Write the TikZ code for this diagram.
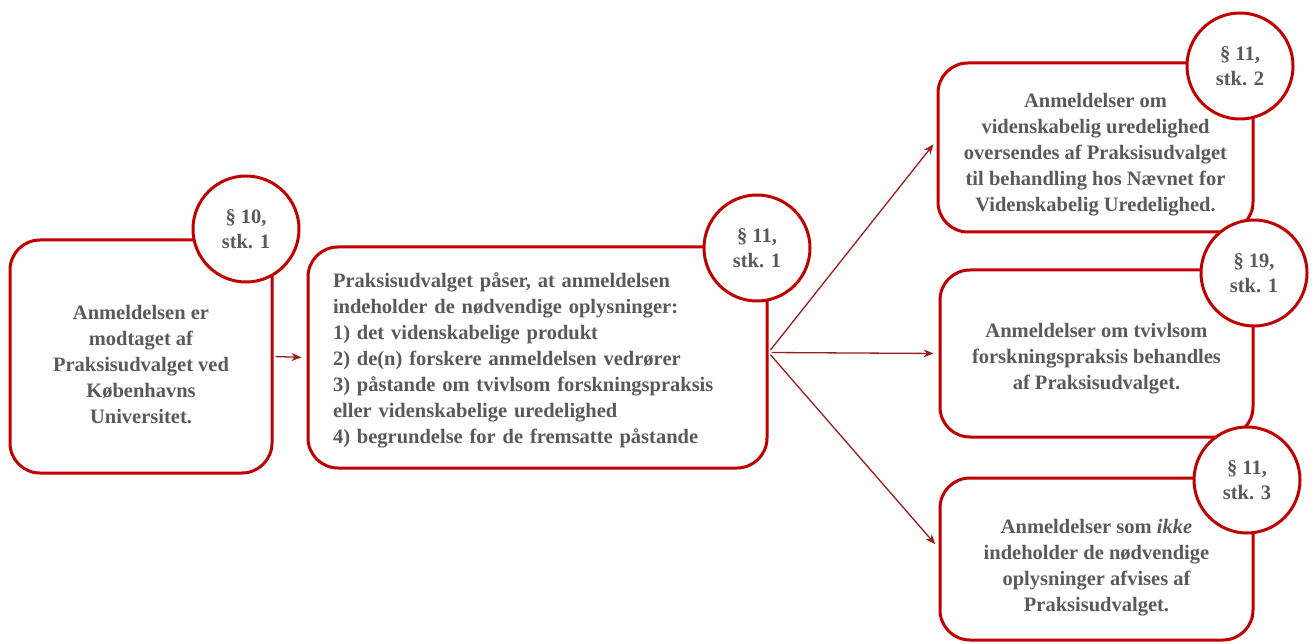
\documentclass[tikz,border=0pt]{standalone}
\usepackage{fontspec}
\setmainfont{Liberation Serif}
\usetikzlibrary{arrows.meta}
\definecolor{boxred}{HTML}{C00000}
\definecolor{arrred}{HTML}{9B1C1C}
\definecolor{txtgray}{HTML}{5A5A5A}
\tikzset{
  box/.style={draw=boxred, line width=3pt, rounded corners=30pt, fill=white, inner sep=0pt},
  boxtext/.style={font=\fontsize{20.5}{26}\selectfont\bfseries, text=txtgray, align=center, inner sep=0pt},
  para/.style={draw=boxred, line width=3pt, fill=white, circle, inner sep=0pt, minimum size=106pt,
    font=\fontsize{20.5}{25.5}\selectfont\bfseries, text=txtgray, align=center},
  arr/.style={draw=arrred, line width=1.3pt, -{Stealth[length=10pt,width=8pt]}}
}
\begin{document}
\begin{tikzpicture}[x=1pt,y=-1pt]
\useasboundingbox (0,0) rectangle (1314,644);
\node[box, minimum width=262pt, minimum height=233pt] (b1) at (141,356.5) {};
\node[boxtext] (t1) at ([yshift=-8pt]b1.center)
  {Anmeldelsen er\\ modtaget af\\ Praksisudvalget ved\\ Københavns\\ Universitet.};
\node[box, minimum width=459pt, minimum height=221pt] (b2) at (537.5,357.5) {};
\node[boxtext, text width=409pt, align=left] (t2) at ([yshift=-2.5pt]b2.center)
  {Praksisudvalget påser, at anmeldelsen\\ indeholder de nødvendige oplysninger:\\ 1) det videnskabelige produkt\\ 2) de(n) forskere anmeldelsen vedrører\\ 3) påstande om tvivlsom forskningspraksis\\ eller videnskabelige uredelighed\\ 4) begrundelse for de fremsatte påstande};
\node[box, minimum width=315pt, minimum height=169pt] (b3) at (1095.5,147.5) {};
\node[boxtext] (t3) at ([yshift=-7pt]b3.center)
  {Anmeldelser om\\ videnskabelig uredelighed\\ oversendes af Praksisudvalget\\ til behandling hos Nævnet for\\ Videnskabelig Uredelighed.};
\node[box, minimum width=313pt, minimum height=167pt] (b4) at (1096.5,353.5) {};
\node[boxtext] (t4) at ([yshift=-5pt]b4.center)
  {Anmeldelser om tvivlsom\\ forskningspraksis behandles\\ af Praksisudvalget.};
\node[box, minimum width=313pt, minimum height=162pt] (b5) at (1096.5,559) {};
\node[boxtext] (t5) at ([yshift=-8.5pt]b5.center)
  {Anmeldelser som \textit{ikke}\\ indeholder de nødvendige\\ oplysninger afvises af\\ Praksisudvalget.};
\node[para] (c1) at (246,229) {§ 10,\\ stk. 1};
\node[para] (c2) at (757,248) {§ 11,\\ stk. 1};
\node[para] (c3) at (1240,66) {§ 11,\\ stk. 2};
\node[para] (c4) at (1254,273) {§ 19,\\ stk. 1};
\node[para] (c5) at (1247,480) {§ 11,\\ stk. 3};
\draw[arr, shorten <=2pt, shorten >=5pt] (b1.east) -- (b2.west);
\draw[arr, shorten <=3pt, shorten >=5pt] ([yshift=5pt]b2.east) -- ([yshift=7pt]b3.west);
\draw[arr, shorten <=3pt, shorten >=5pt] ([yshift=5pt]b2.east) -- ([yshift=0pt]b4.west);
\draw[arr, shorten <=3pt, shorten >=5pt] ([yshift=5pt]b2.east) -- ([yshift=11pt]b5.west);
\end{tikzpicture}
\end{document}
